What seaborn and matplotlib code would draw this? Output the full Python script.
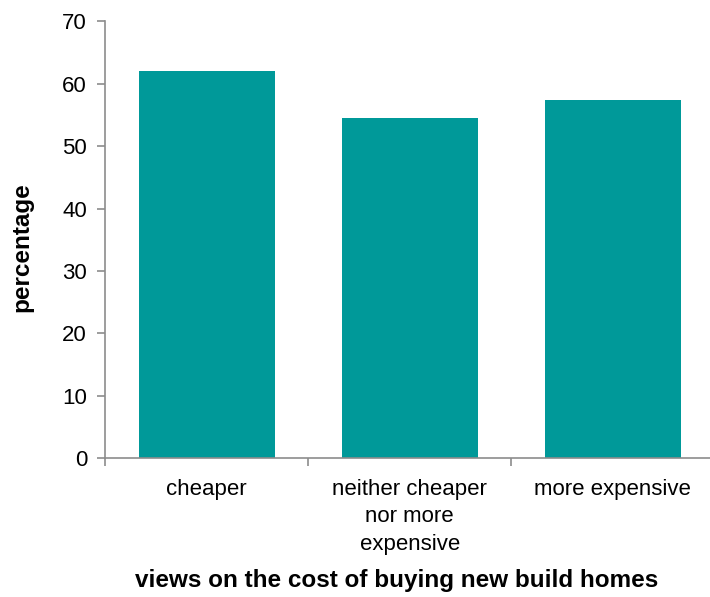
import matplotlib
matplotlib.use("Agg")
import matplotlib.pyplot as plt
import seaborn as sns
import pandas as pd
from matplotlib.ticker import FixedLocator

categories = ["cheaper", "neither cheaper\nnor more\nexpensive", "more expensive"]
percentages = [62.0, 54.5, 57.4]
y_ticks = [0, 10, 20, 30, 40, 50, 60, 70]

bar_color = "#009999"
axis_color = "#8c8c8c"
fs = 16
fs_title = 17.5

sns.set_theme(style="white")
plt.rcParams["font.family"] = ["Liberation Sans", "DejaVu Sans"]

df = pd.DataFrame({"view": categories, "pct": percentages})

fig = plt.figure(figsize=(7.10, 5.97), dpi=100)
ax = fig.add_axes([0.148, 0.233, 0.858, 0.731])

sns.barplot(data=df, x="view", y="pct", color=bar_color, saturation=1,
            width=0.67, ax=ax, edgecolor="none")

ax.set_xlim(-0.5, 2.5)
ax.set_ylim(0, 70)
ax.set_yticks(y_ticks)
ax.set_yticklabels([str(t) for t in y_ticks], fontsize=fs, color="#000000")

# category labels sit between boundary ticks
ax.tick_params(axis="x", which="major", length=0, pad=15, labelsize=fs,
               labelcolor="#000000")
ax.xaxis.set_minor_locator(FixedLocator([-0.5, 0.5, 1.5, 2.5]))
ax.tick_params(axis="x", which="minor", length=6, width=1.2, color=axis_color,
               bottom=True, direction="out")
ax.tick_params(axis="y", which="major", length=6, width=1.2, color=axis_color,
               left=True, direction="out", pad=7)
for lbl in ax.get_xticklabels():
    lbl.set_linespacing(1.42)

for side in ["top", "right"]:
    ax.spines[side].set_visible(False)
for side in ["left", "bottom"]:
    ax.spines[side].set_color(axis_color)
    ax.spines[side].set_linewidth(1.2)

ax.set_ylabel("percentage", fontsize=fs_title, fontweight="bold", color="#000000")
ax.yaxis.set_label_coords(-0.118, 0.482)
ax.set_xlabel("")
fig.text(397 / 710, 1 - 581 / 597, "views on the cost of buying new build homes",
         fontsize=fs_title, fontweight="bold", color="#000000",
         ha="center", va="center")

fig.savefig("out.png", dpi=100, facecolor="white")
